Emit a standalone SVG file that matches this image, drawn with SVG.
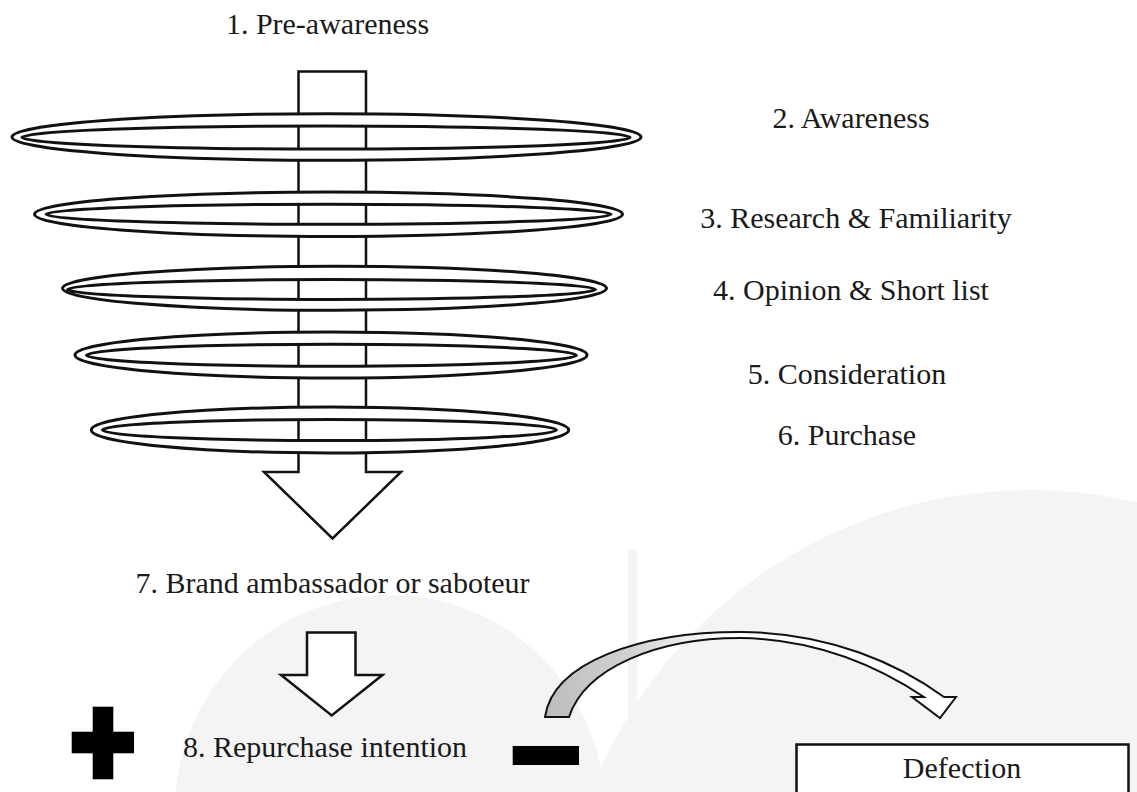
<svg xmlns="http://www.w3.org/2000/svg" width="1137" height="792" viewBox="0 0 1137 792">
<style>
.lbl{font-family:"Liberation Serif","Times New Roman",serif;font-size:30px;fill:#1a1a1a;}
.ring{fill:#fff;fill-rule:evenodd;stroke:#111;stroke-width:3;}
.blk{fill:#fff;stroke:#111;stroke-width:2.5;stroke-linejoin:miter;}
.wm{fill:#f4f4f4;}
</style>
<defs>
<linearGradient id="gr" gradientUnits="userSpaceOnUse" x1="545" y1="0" x2="720" y2="0">
<stop offset="0" stop-color="#bcbcbc"/>
<stop offset="0.5" stop-color="#d2d2d2"/>
<stop offset="1" stop-color="#ffffff"/>
</linearGradient>
</defs>
<rect width="1137" height="792" fill="#fff"/>
<g id="watermark">
<circle class="wm" cx="1030" cy="960" r="470"/>
<circle class="wm" cx="390" cy="810" r="215"/>
<rect class="wm" x="628" y="550" width="9" height="242"/>
</g>
<g id="funnel-arrow">
<polygon class="blk" points="298.5,71.5 366,71.5 366,472 401,472 332.5,538.5 264,472 298.5,472"/>
</g>
<g id="ring1"><path class="ring" d="M 12,137 A 314.5,23.2 0 1 0 641,137 A 314.5,23.2 0 1 0 12,137 Z M 22,137.5 A 304,11.5 0 1 0 630,137.5 A 304,11.5 0 1 0 22,137.5 Z"/></g>
<g id="ring2"><path class="ring" d="M 34.5,214.3 A 294,22.2 0 1 0 622.5,214.3 A 294,22.2 0 1 0 34.5,214.3 Z M 46,214.3 A 282.5,10 0 1 0 611,214.3 A 282.5,10 0 1 0 46,214.3 Z"/></g>
<g id="ring3"><path class="ring" d="M 62.5,288.3 A 272,22 0 1 0 606.5,288.3 A 272,22 0 1 0 62.5,288.3 Z M 67.5,289.5 A 264,10 0 1 0 595.5,289.5 A 264,10 0 1 0 67.5,289.5 Z"/></g>
<g id="ring4"><path class="ring" d="M 75,355 A 256,23 0 1 0 587,355 A 256,23 0 1 0 75,355 Z M 86.5,355.3 A 245,11 0 1 0 576.5,355.3 A 245,11 0 1 0 86.5,355.3 Z"/></g>
<g id="ring5"><path class="ring" d="M 91.3,430 A 238.7,23 0 1 0 568.7,430 A 238.7,23 0 1 0 91.3,430 Z M 102.5,430 A 227,10.5 0 1 0 556.5,430 A 227,10.5 0 1 0 102.5,430 Z"/></g>
<g id="stage1"><text class="lbl" x="327.5" y="33.5" text-anchor="middle">1. Pre-awareness</text></g>
<g id="stage2"><text class="lbl" x="851" y="128" text-anchor="middle">2. Awareness</text></g>
<g id="stage3"><text class="lbl" x="856" y="227.5" text-anchor="middle">3. Research &amp; Familiarity</text></g>
<g id="stage4"><text class="lbl" x="851" y="300" text-anchor="middle">4. Opinion &amp; Short list</text></g>
<g id="stage5"><text class="lbl" x="847" y="384" text-anchor="middle">5. Consideration</text></g>
<g id="stage6"><text class="lbl" x="847" y="445" text-anchor="middle">6. Purchase</text></g>
<g id="stage7"><text class="lbl" x="332.5" y="593" text-anchor="middle">7. Brand ambassador or saboteur</text></g>
<g id="small-arrow">
<polygon class="blk" stroke-width="2" points="307,632.5 355.5,632.5 355.5,675 382.5,675 331.7,715.5 281,675 307,675"/>
</g>
<g id="plus">
<rect x="92.7" y="706.7" width="20.6" height="72.6" fill="#000"/>
<rect x="71.7" y="731.7" width="62.3" height="21.6" fill="#000"/>
</g>
<g id="stage8"><text class="lbl" x="325" y="757" text-anchor="middle">8. Repurchase intention</text></g>
<g id="minus"><rect x="512.7" y="746" width="66.3" height="19" fill="#000"/></g>
<g id="defection">
<rect x="796.5" y="744.5" width="332" height="60" fill="#fff" stroke="#111" stroke-width="2.5"/>
<text class="lbl" x="962" y="778" text-anchor="middle">Defection</text>
</g>
<g id="connectors">
<path d="M 545,717 C 553,662 640,632 740,632 C 830,632 900,665 944,697 L 956,697 L 940,718 L 912,697 L 924,697 C 888,673 825,639 740,638 C 657,638 585,668 569,717 Z" fill="url(#gr)" stroke="#111" stroke-width="2" stroke-linejoin="miter"/>
</g>
</svg>
